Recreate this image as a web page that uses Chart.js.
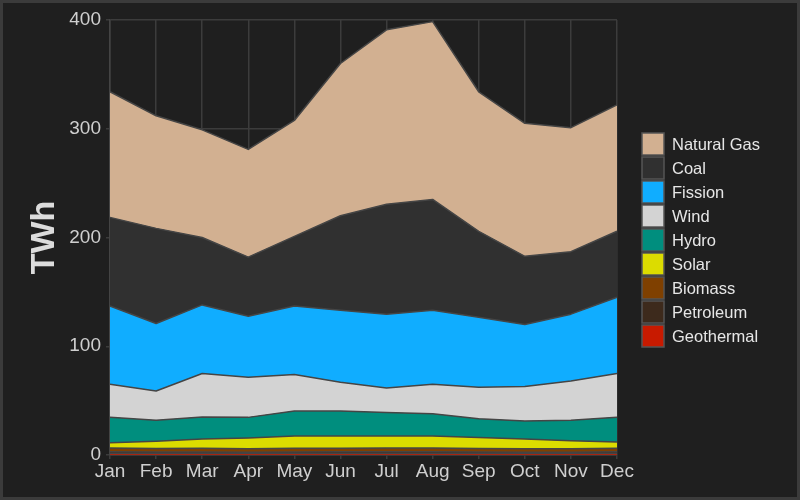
<!DOCTYPE html>
<html>
<head>
<meta charset="utf-8">
<script src="https://cdn.jsdelivr.net/npm/chart.js@4.4.0/dist/chart.umd.min.js"></script>
<style>
html,body{margin:0;padding:0;background:#1f1f1f;}
#wrap{width:800px;height:500px;position:relative;}
canvas{display:block;}
</style>
</head>
<body>
<div id="wrap"><canvas id="c" width="800" height="500"></canvas></div>
<script>
const months = ["Jan","Feb","Mar","Apr","May","Jun","Jul","Aug","Sep","Oct","Nov","Dec"];
const yTicks = [0, 100, 200, 300, 400];

// Monthly generation by source (TWh), stacked bottom to top
const geothermal = [1.4, 1.3, 1.4, 1.3, 1.4, 1.4, 1.4, 1.4, 1.3, 1.3, 1.3, 1.4];
const petroleum  = [1.6, 1.4, 1.4, 1.3, 1.4, 1.5, 1.7, 1.6, 1.4, 1.3, 1.3, 1.5];
const biomass    = [3.4, 3.2, 3.3, 3.1, 3.3, 3.3, 3.4, 3.4, 3.2, 3.2, 3.2, 3.3];
const solar      = [4.9, 6.8, 8.6, 9.9, 11.3, 11.2, 10.9, 11.0, 10.3, 8.9, 7.4, 5.8];
const hydro      = [23.3, 19.2, 20.3, 19.0, 23.0, 23.0, 21.6, 20.6, 17.2, 16.5, 18.8, 22.6];
const wind       = [30.4, 27.0, 40.0, 37.0, 33.6, 26.6, 22.5, 27.0, 29.0, 31.8, 36.0, 40.4];
const fission    = [72.0, 62.0, 63.0, 56.0, 63.0, 66.0, 68.0, 68.0, 64.3, 57.0, 61.5, 70.0];
const coal       = [81.5, 87.5, 62.0, 54.4, 64.0, 87.0, 101.0, 102.0, 79.0, 62.7, 57.5, 60.7];
const naturalGas = [115.5, 103.5, 99.0, 99.0, 106.6, 140.0, 160.5, 163.5, 128.3, 122.3, 114.0, 116.3];

const seriesNames  = ["Geothermal","Petroleum","Biomass","Solar","Hydro","Wind","Fission","Coal","Natural Gas"];
const seriesData   = [geothermal, petroleum, biomass, solar, hydro, wind, fission, coal, naturalGas];
const seriesColors = ["#c81a00","#3d2a1c","#7f4000","#dcdc00","#008e7e","#d3d3d3","#10adff","#303030","#d2b091"];

const datasets = seriesNames.map((name, i) => ({
  label: name,
  data: seriesData[i],
  backgroundColor: seriesColors[i],
  borderColor: "#454545",
  borderWidth: 1.5,
  pointRadius: 0,
  tension: 0,
  fill: i === 0 ? "origin" : "-1"
}));

const bgPlugin = {
  id: "bg",
  beforeDraw(chart) {
    const ctx = chart.ctx;
    ctx.save();
    ctx.fillStyle = "#3b3b3b";
    ctx.fillRect(0, 0, chart.width, chart.height);
    ctx.fillStyle = "#1f1f1f";
    ctx.fillRect(3, 3, chart.width - 6, chart.height - 6);
    ctx.restore();
  }
};

const legendPlugin = {
  id: "customLegend",
  afterDraw(chart) {
    const ctx = chart.ctx;
    ctx.save();
    const x = 642, y0 = 133, step = 24, size = 22;
    const ds = chart.data.datasets.slice().reverse();
    ds.forEach((d, i) => {
      const y = y0 + i * step;
      ctx.fillStyle = d.backgroundColor;
      ctx.fillRect(x, y, size, size);
      ctx.strokeStyle = "#555555";
      ctx.lineWidth = 1.5;
      ctx.strokeRect(x, y, size, size);
      ctx.fillStyle = "#e6e6e6";
      ctx.font = "16.5px 'Liberation Sans', Arial, sans-serif";
      ctx.textBaseline = "middle";
      ctx.textAlign = "left";
      ctx.fillText(d.label, x + 30, y + size / 2 + 1);
    });
    ctx.restore();
  }
};

new Chart(document.getElementById("c"), {
  type: "line",
  data: { labels: months, datasets },
  plugins: [bgPlugin, legendPlugin],
  options: {
    responsive: false,
    animation: false,
    devicePixelRatio: 1,
    layout: { padding: { left: 0, top: 20, right: 183, bottom: 0 } },
    plugins: { legend: { display: false }, tooltip: { enabled: false } },
    elements: { line: { borderJoinStyle: "round" } },
    scales: {
      x: {
        grid: { color: "#3c3c3c", lineWidth: 1.5, tickLength: 4, drawTicks: true },
        border: { color: "#444444", width: 1.5 },
        ticks: { color: "#cfcfcf", font: { size: 19, family: "'Liberation Sans', Arial, sans-serif" }, padding: 1, maxRotation: 0, autoSkip: false },
        afterFit(scale) { scale.height = 45; }
      },
      y: {
        stacked: true,
        min: 0, max: 400,
        afterBuildTicks(scale) { scale.ticks = yTicks.map(v => ({ value: v })); },
        grid: { color: "#3c3c3c", lineWidth: 1.5, tickLength: 4 },
        border: { color: "#444444", width: 1.5 },
        ticks: { color: "#cfcfcf", font: { size: 19, family: "'Liberation Sans', Arial, sans-serif" }, padding: 5 },
        title: { display: true, text: "TWh", color: "#dcdcdc", font: { size: 34, weight: "bold", family: "'Liberation Sans', Arial, sans-serif" }, padding: { top: 24, bottom: 0 } },
        afterFit(scale) { scale.width = 110; }
      }
    }
  }
});
</script>
</body>
</html>
